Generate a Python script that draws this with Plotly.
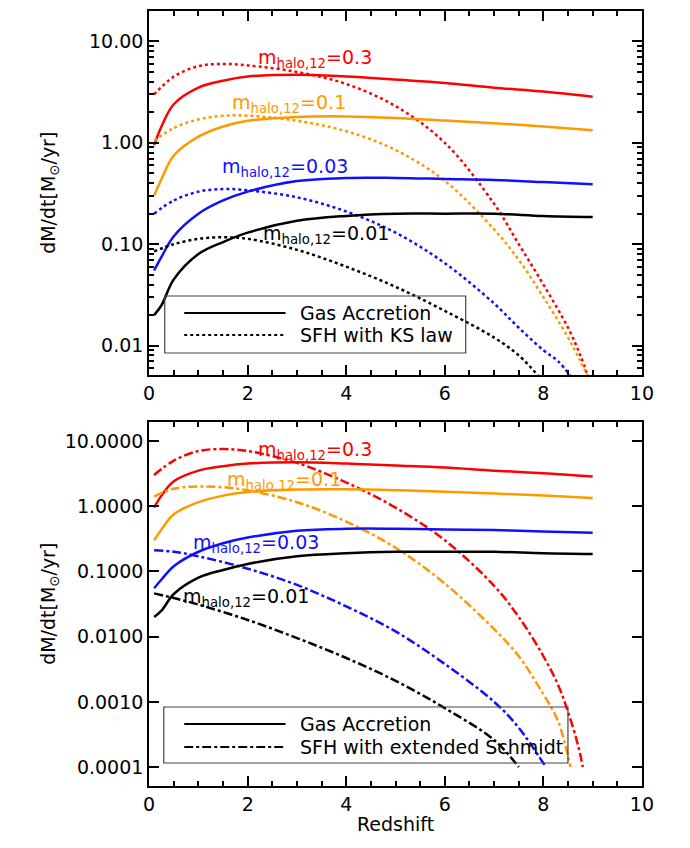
import plotly.graph_objects as go

# Redshift grids
z_acc = [0.1, 0.25, 0.5, 1, 1.5, 2, 3, 4, 5, 6, 7, 8, 9]

# Gas accretion rates (Msun/yr), same in both panels
acc_03 = [0.95, 1.45, 2.4, 3.5, 4.1, 4.5, 4.7, 4.5, 4.2, 3.9, 3.5, 3.2, 2.85]
acc_01 = [0.30, 0.44, 0.75, 1.15, 1.45, 1.65, 1.8, 1.82, 1.76, 1.66, 1.56, 1.45, 1.33]
acc_003 = [0.055, 0.075, 0.12, 0.2, 0.27, 0.33, 0.42, 0.45, 0.45, 0.44, 0.43, 0.41, 0.39]
acc_001 = [0.02, 0.025, 0.045, 0.08, 0.105, 0.13, 0.17, 0.19, 0.2, 0.2, 0.2, 0.19, 0.185]

# SFH with KS law (top panel)
z_ks_03 = [0.1, 0.5, 1, 1.5, 2, 3, 4, 5, 6, 7, 7.5, 8, 8.5, 8.75, 8.9]
ks_03 = [3.0, 4.5, 5.7, 6.0, 5.8, 5.0, 3.8, 2.3, 1.0, 0.25, 0.1, 0.04, 0.015, 0.008, 0.005]
z_ks_01 = [0.1, 0.5, 1, 1.5, 2, 3, 4, 5, 6, 7, 7.5, 8, 8.5, 8.75, 8.9]
ks_01 = [1.05, 1.4, 1.7, 1.85, 1.85, 1.65, 1.3, 0.85, 0.42, 0.14, 0.07, 0.03, 0.012, 0.007, 0.005]
z_ks_003 = [0.1, 0.5, 1, 1.5, 2, 3, 4, 5, 6, 7, 7.5, 8, 8.3, 8.55]
ks_003 = [0.2, 0.27, 0.33, 0.35, 0.34, 0.29, 0.21, 0.13, 0.065, 0.026, 0.015, 0.009, 0.007, 0.005]
z_ks_001 = [0.1, 0.5, 1, 1.5, 2, 3, 4, 5, 6, 7, 7.5, 7.9]
ks_001 = [0.085, 0.1, 0.113, 0.117, 0.113, 0.088, 0.06, 0.038, 0.022, 0.012, 0.008, 0.005]

# SFH with extended Schmidt law (bottom panel)
z_es_03 = [0.1, 0.5, 1, 1.5, 2, 3, 4, 5, 6, 7, 7.5, 8, 8.3, 8.5, 8.7, 8.8]
es_03 = [3.0, 5.0, 7.0, 7.5, 7.0, 4.6, 2.3, 0.95, 0.3, 0.06, 0.02, 0.005, 0.0018, 0.0007, 0.00022, 0.0001]
z_es_01 = [0.1, 0.5, 1, 1.5, 2, 3, 4, 5, 6, 7, 7.5, 8, 8.3, 8.55]
es_01 = [1.4, 1.85, 2.0, 1.95, 1.75, 1.15, 0.58, 0.23, 0.065, 0.013, 0.005, 0.0013, 0.0005, 0.0001]
z_es_003 = [0.1, 0.5, 1, 2, 3, 4, 5, 6, 7, 7.5, 8.05]
es_003 = [0.21, 0.2, 0.17, 0.11, 0.062, 0.029, 0.012, 0.0038, 0.001, 0.0004, 0.0001]
z_es_001 = [0.1, 0.5, 1, 2, 3, 4, 5, 6, 7, 7.5]
es_001 = [0.046, 0.039, 0.031, 0.018, 0.0095, 0.0047, 0.0021, 0.0008, 0.00026, 0.0001]

labels = ['0.3', '0.1', '0.03', '0.01']
colors = ['#FF0000', '#FF9900', '#1010FF', '#000000']

top_yticks = [10, 1, 0.1, 0.01]
top_yticktext = ['10.00', '1.00', '0.10', '0.01']
bot_yticks = [10, 1, 0.1, 0.01, 0.001, 0.0001]
bot_yticktext = ['10.0000', '1.0000', '0.1000', '0.0100', '0.0010', '0.0001']
xticks = [0, 2, 4, 6, 8, 10]

W, H = 690, 848


def px(x):
    return x / W


def py(y):
    return 1 - y / H


fig = go.Figure()

acc = [acc_03, acc_01, acc_003, acc_001]
ks = [(z_ks_03, ks_03), (z_ks_01, ks_01), (z_ks_003, ks_003), (z_ks_001, ks_001)]
es = [(z_es_03, es_03), (z_es_01, es_01), (z_es_003, es_003), (z_es_001, es_001)]

for i in range(4):
    c = colors[i]
    fig.add_trace(go.Scatter(x=ks[i][0], y=ks[i][1], mode='lines', line=dict(color=c, width=2.5, dash='dot', shape='spline'),
                             xaxis='x', yaxis='y', showlegend=False))
    fig.add_trace(go.Scatter(x=z_acc, y=acc[i], mode='lines', line=dict(color=c, width=2.5, shape='spline'),
                             xaxis='x', yaxis='y', showlegend=False))
    fig.add_trace(go.Scatter(x=es[i][0], y=es[i][1], mode='lines', line=dict(color=c, width=2.5, dash='dashdot', shape='spline'),
                             xaxis='x2', yaxis='y2', showlegend=False))
    fig.add_trace(go.Scatter(x=z_acc, y=acc[i], mode='lines', line=dict(color=c, width=2.5, shape='spline'),
                             xaxis='x2', yaxis='y2', showlegend=False))

font = dict(family='DejaVu Sans', size=19, color='black')
xdom = [px(147), px(653)]
axcommon = dict(showline=True, linecolor='black', linewidth=2, mirror='allticks', ticks='inside',
                tickcolor='black', tickwidth=1.5, showgrid=False, zeroline=False, tickfont=font)
xcommon = dict(axcommon, range=[0, 10], tickvals=xticks, ticklen=10,
               minor=dict(dtick=0.5, ticks='inside', ticklen=5, tickcolor='black', tickwidth=1.5))

fig.update_layout(
    width=W, height=H,
    margin=dict(l=0, r=0, t=0, b=0),
    paper_bgcolor='white', plot_bgcolor='white',
    font=font,
    xaxis=dict(xcommon, domain=xdom, anchor='y'),
    yaxis=dict(axcommon, type='log', range=[-2.29, 1.30], domain=[py(375), py(11)], anchor='x',
               tickvals=top_yticks, ticktext=top_yticktext, ticklen=10,
               minor=dict(ticks='inside', ticklen=5, tickcolor='black', tickwidth=1.5,
                          tickvals=[m * 10 ** e for e in range(-3, 2) for m in range(2, 10)])),
    xaxis2=dict(xcommon, domain=xdom, anchor='y2',
                title=dict(text='Redshift', font=font, standoff=4)),
    yaxis2=dict(axcommon, type='log', range=[-4.29, 1.29], domain=[py(786), py(422)], anchor='x2',
                tickvals=bot_yticks, ticktext=bot_yticktext, ticklen=10),
)

annotations = []
# y axis titles
for yc in [193, 604]:
    annotations.append(dict(x=px(44), y=py(yc), xref='paper', yref='paper', xanchor='center', yanchor='middle',
                            text='dM/dt[M<sub>⊙</sub>/yr]', textangle=-90, showarrow=False, font=font))

# curve labels
top_pos = [(257, 58), (230, 103), (220, 167), (262, 235)]
bot_pos = [(257, 450), (225, 480), (190, 543), (180, 597)]
for i in range(4):
    for (x, y) in [top_pos[i], bot_pos[i]]:
        annotations.append(dict(x=px(x), y=py(y), xref='paper', yref='paper', xanchor='left', yanchor='middle',
                                text='m<sub>halo,12</sub>=' + labels[i], showarrow=False,
                                font=dict(family='DejaVu Sans', size=19, color=colors[i])))

shapes = []
# legend boxes
for (x0, y0, x1, y1) in [(163, 296, 472, 353), (162, 707, 577, 763)]:
    shapes.append(dict(type='rect', xref='paper', yref='paper', x0=px(x0), x1=px(x1), y0=py(y1), y1=py(y0),
                       line=dict(color='#444444', width=1.2), layer='above'))
leg = [(313, 'solid', 'Gas Accretion'), (335, 'dot', 'SFH with KS law'),
       (724, 'solid', 'Gas Accretion'), (747, 'dashdot', 'SFH with extended Schmidt')]
for (y, d, t) in leg:
    shapes.append(dict(type='line', xref='paper', yref='paper', x0=px(183), x1=px(287), y0=py(y), y1=py(y),
                       line=dict(color='black', width=2, dash=d), layer='above'))
    annotations.append(dict(x=px(300), y=py(y), xref='paper', yref='paper', xanchor='left', yanchor='middle',
                            text=t, showarrow=False, font=font))

fig.update_layout(annotations=annotations, shapes=shapes)

fig.write_html('out.html', config={'displayModeBar': False},
               post_script="document.body.style.margin='0';")
